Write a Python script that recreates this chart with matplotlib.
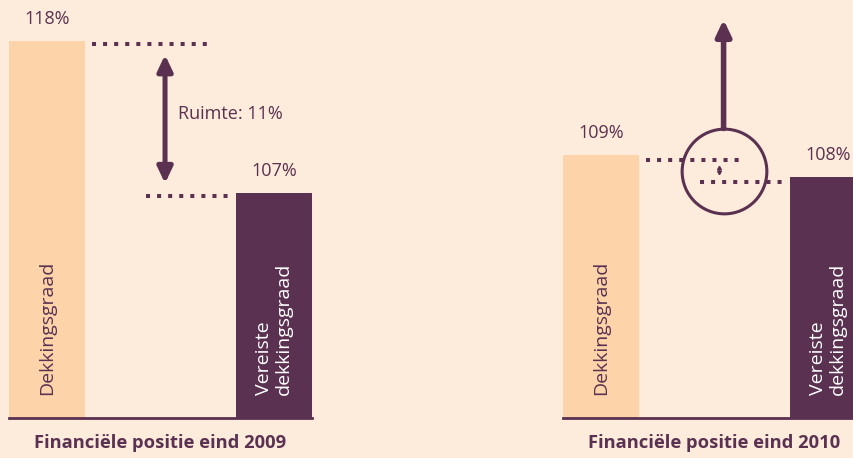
import matplotlib
matplotlib.use('Agg')
from matplotlib import pyplot as plt

plt.rcParams['font.family'] = ['Open Sans', 'DejaVu Sans']

# data
panels = ['Financiële positie eind 2009', 'Financiële positie eind 2010']
bar_names = ['Dekkingsgraad', 'Vereiste\ndekkingsgraad']
values_2009 = [118, 107]
values_2010 = [109, 108]
ruimte_2009 = 11

bg = '#fdecdc'
peach = '#fdd3aa'
purple = '#5a3150'

W, H = 854, 458
fig = plt.figure(figsize=(W / 100, H / 100), dpi=100, facecolor=bg)

# axes in pixel layout: left edge, ylim per panel (graphic is not to one scale)
layout = [
    (9, (90.72, 120.97)),
    (563, (97.05, 116.05)),
]
w = 76 / 227  # bar width in category units


def setup(ax, ylim, title):
    ax.set_facecolor('none')
    ax.set_xlim(-w / 2, 1 + w / 2)
    ax.set_ylim(*ylim)
    for s in ['top', 'left', 'right']:
        ax.spines[s].set_visible(False)
    ax.spines['bottom'].set_color(purple)
    ax.spines['bottom'].set_linewidth(2)
    ax.set_xticks([])
    ax.set_yticks([])
    ax.annotate(title, xy=(0.5, 0), xycoords='axes fraction', xytext=(0, -18),
                textcoords='offset points', ha='center', va='center',
                fontsize=13.2, fontweight='bold', color=purple)


def bars(ax, vals):
    base = ax.get_ylim()[0]
    ax.bar([0, 1], [v - base for v in vals], bottom=base, width=w,
           color=[peach, purple])
    for i, v in enumerate(vals):
        ax.annotate(f'{v}%', xy=(i, v), xytext=(0, 16), textcoords='offset points',
                    ha='center', va='center', fontsize=13, color=purple)
    cols = [purple, 'white']
    for i, name in enumerate(bar_names):
        ax.annotate(name, xy=(i, base), xytext=(0, 16.5), textcoords='offset points',
                    ha='center', va='bottom', rotation=90, fontsize=14,
                    color=cols[i], multialignment='left', linespacing=1.15)


def dots(ax, x0, x1, y):
    ax.plot([x0, x1], [y, y], color=purple, lw=2.9, linestyle=(0, (1, 1.75)),
            dash_capstyle='butt', clip_on=False)


axes = []
for (x0, ylim), title in zip(layout, panels):
    ax = fig.add_axes([x0 / W, 40 / H, 303 / W, 418 / H])
    setup(ax, ylim, title)
    axes.append(ax)

# 2009
ax = axes[0]
bars(ax, values_2009)
dots(ax, 0.198, 0.709, values_2009[0] - 0.2)
dots(ax, 0.436, 0.797, values_2009[1] - 0.2)
ax.annotate('', xy=(0.52, values_2009[0] - 1.0), xytext=(0.52, values_2009[1] + 0.7),
            arrowprops=dict(arrowstyle='<|-|>,head_length=0.95,head_width=0.45',
                            lw=3.6, color=purple, shrinkA=0, shrinkB=0))
ax.text(0.575, (values_2009[0] + values_2009[1]) / 2 + 0.25, f'Ruimte: {ruimte_2009}%',
        ha='left', va='center', fontsize=13, color=purple)

# 2010
ax = axes[1]
bars(ax, values_2010)
dots(ax, 0.20, 0.615, values_2010[0] - 0.2)
dots(ax, 0.434, 0.80, values_2010[1] - 0.2)
cx = 0.54
cy = (values_2010[0] + values_2010[1]) / 2 - 0.2
ax.plot([cx], [cy], marker='o', markersize=61, mfc='none', mec=purple, mew=2.2,
        clip_on=False)
ax.annotate('', xy=(cx, cy + 6.86), xytext=(cx, cy + 1.91),
            arrowprops=dict(arrowstyle='-|>,head_length=0.95,head_width=0.45',
                            lw=4, color=purple, shrinkA=0, shrinkB=0))
ax.annotate('', xy=(0.522, cy + 0.24), xytext=(0.522, cy - 0.24),
            arrowprops=dict(arrowstyle='<|-|>,head_length=0.2,head_width=0.12',
                            lw=1.2, color=purple, shrinkA=0, shrinkB=0))

fig.savefig('out.png', dpi=100, facecolor=bg)
